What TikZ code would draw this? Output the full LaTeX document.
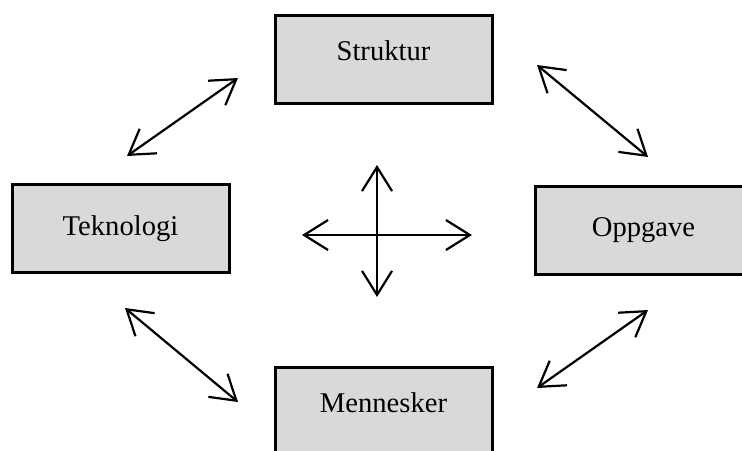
\documentclass[tikz,border=0pt]{standalone}
\usepackage{fontspec}
\setmainfont{Liberation Serif}
\usetikzlibrary{arrows.meta}

\begin{document}
\begin{tikzpicture}[x=0.5pt, y=-0.5pt,
    area/.style={draw=black, line width=1.5pt, fill=black!15, minimum width=108.5pt, minimum height=44pt, inner sep=0pt, font=\fontsize{14.3}{16}\selectfont},
    link/.style={line width=1.1pt, {Straight Barb[length=12pt, width=15pt]}-{Straight Barb[length=12pt, width=15pt]}}]
    \useasboundingbox (0,0) rectangle (742,450);

    % Boxes
    \node[area] (struktur) at (383.5, 59) {\raisebox{8pt}{Struktur}};
    \node[area] (teknologi) at (120.5, 228.5) {\raisebox{3pt}{Teknologi}};
    \node[area] (oppgave) at (643.5, 230) {\raisebox{3pt}{Oppgave}};
    \node[area] (mennesker) at (383.5, 411) {\raisebox{8pt}{Mennesker}};

    % Arrow ends
    \coordinate (tk1) at (127, 156);
    \coordinate (st1) at (238, 78);
    \coordinate (st2) at (537, 65);
    \coordinate (op1) at (648, 157);
    \coordinate (tk2) at (125, 308);
    \coordinate (me1) at (238, 402);
    \coordinate (op2) at (648, 310);
    \coordinate (me2) at (537, 388);

    % Links between boxes
    \draw[link] (tk1) -- (st1);
    \draw[link] (st2) -- (op1);
    \draw[link] (tk2) -- (me1);
    \draw[link] (op2) -- (me2);

    % Cross in the middle
    \coordinate (up) at (377, 165);
    \coordinate (down) at (377, 297);
    \coordinate (left) at (302, 235);
    \coordinate (right) at (472, 235);
    \draw[link] (up) -- (down);
    \draw[link] (left) -- (right);
\end{tikzpicture}
\end{document}
